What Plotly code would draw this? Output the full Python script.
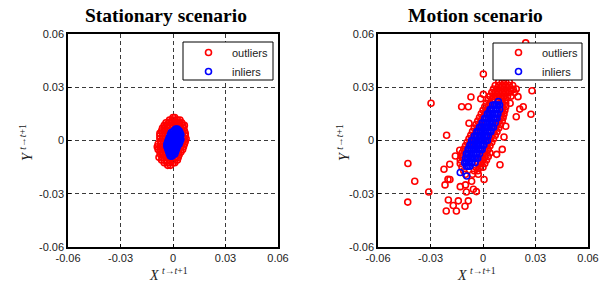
import plotly.graph_objects as go

W, H = 611, 286

# ---------------- data ----------------
tick_vals = [-0.06, -0.03, 0, 0.03, 0.06]
tick_text = ["-0.06", "-0.03", "0", "0.03", "0.06"]

# Stationary scenario, outliers (red)
stat_out_x = [0.0, 0.001,
              -0.002, -0.0005, 0.001, 0.0025, 0.004,
              -0.004, -0.0025, -0.001, 0.0005, 0.002, 0.0035, 0.005,
              -0.005, -0.0035, -0.002, 0.0, 0.002, 0.004, 0.0055, 0.0065,
              -0.006, -0.0045, -0.003, 0.0045, 0.006,
              -0.0065, -0.005, -0.0035, 0.005, 0.0065,
              -0.0075, -0.006, -0.0045, -0.003, 0.0055, 0.007,
              -0.0075, -0.006, -0.0045, 0.0055, 0.007,
              -0.0075, -0.006, -0.0045, 0.006, 0.0075,
              -0.007, -0.0055, -0.004, 0.0055, 0.007,
              -0.0085, -0.007, -0.0055, 0.005, 0.0065,
              -0.009, -0.0075, -0.006, 0.0045, 0.006,
              -0.0085, -0.007, -0.005, 0.0035, 0.0055,
              -0.0075, -0.006, -0.0045, 0.0025, 0.0045,
              -0.007, -0.0055, -0.004, 0.002, 0.0035,
              -0.008, -0.006, -0.004, -0.0025, 0.0015, 0.003,
              -0.0065, -0.005, -0.0035, -0.002, -0.0005, 0.001, 0.0025,
              -0.005, -0.0035, -0.002, 0.0, 0.001,
              -0.003, -0.0015]
stat_out_y = [0.013, 0.013,
              0.0115, 0.0115, 0.0115, 0.0115, 0.0115,
              0.010, 0.010, 0.010, 0.010, 0.010, 0.010, 0.010,
              0.0085, 0.0085, 0.0085, 0.0085, 0.0085, 0.0085, 0.0085, 0.0085,
              0.007, 0.007, 0.007, 0.007, 0.007,
              0.0055, 0.0055, 0.0055, 0.0055, 0.0055,
              0.004, 0.004, 0.004, 0.004, 0.004, 0.004,
              0.0025, 0.0025, 0.0025, 0.0025, 0.0025,
              0.001, 0.001, 0.001, 0.001, 0.001,
              -0.0005, -0.0005, -0.0005, -0.0005, -0.0005,
              -0.002, -0.002, -0.002, -0.002, -0.002,
              -0.0035, -0.0035, -0.0035, -0.0035, -0.0035,
              -0.005, -0.005, -0.005, -0.005, -0.005,
              -0.0065, -0.0065, -0.0065, -0.0065, -0.0065,
              -0.008, -0.008, -0.008, -0.008, -0.008,
              -0.0095, -0.0095, -0.0095, -0.0095, -0.0095, -0.0095,
              -0.011, -0.011, -0.011, -0.011, -0.011, -0.011, -0.011,
              -0.0125, -0.0125, -0.0125, -0.0125, -0.0125,
              -0.014, -0.014]

# Stationary scenario, inliers (blue)
stat_in_x = [0.0015, 0.0025,
             0.0005, 0.0015, 0.0025, 0.0035,
             -0.001, 0.0, 0.001, 0.002, 0.003, 0.004,
             -0.0015, -0.0005, 0.0005, 0.0015, 0.0025, 0.0035, 0.0045,
             -0.002, -0.001, 0.0, 0.001, 0.002, 0.003, 0.004,
             -0.0025, -0.0015, -0.0005, 0.0005, 0.0015, 0.0025, 0.0035, 0.0045,
             -0.003, -0.002, -0.001, 0.0, 0.001, 0.002, 0.003, 0.004,
             -0.0035, -0.0025, -0.0015, -0.0005, 0.0005, 0.0015, 0.0025, 0.0035,
             -0.0035, -0.0025, -0.0015, -0.0005, 0.0005, 0.0015, 0.0025,
             -0.003, -0.002, -0.001, 0.0, 0.001, 0.002,
             -0.0025, -0.0015, -0.0005, 0.0005, 0.0015,
             -0.002, -0.001, 0.0, 0.001,
             -0.0015, -0.0005]
stat_in_y = [0.0065, 0.0065,
             0.0055, 0.0055, 0.0055, 0.0055,
             0.0045, 0.0045, 0.0045, 0.0045, 0.0045, 0.0045,
             0.0032, 0.0032, 0.0032, 0.0032, 0.0032, 0.0032, 0.0032,
             0.002, 0.002, 0.002, 0.002, 0.002, 0.002, 0.002,
             0.0007, 0.0007, 0.0007, 0.0007, 0.0007, 0.0007, 0.0007, 0.0007,
             -0.0006, -0.0006, -0.0006, -0.0006, -0.0006, -0.0006, -0.0006, -0.0006,
             -0.002, -0.002, -0.002, -0.002, -0.002, -0.002, -0.002, -0.002,
             -0.0034, -0.0034, -0.0034, -0.0034, -0.0034, -0.0034, -0.0034,
             -0.0048, -0.0048, -0.0048, -0.0048, -0.0048, -0.0048,
             -0.0062, -0.0062, -0.0062, -0.0062, -0.0062,
             -0.0076, -0.0076, -0.0076, -0.0076,
             -0.0088, -0.0088]

# Motion scenario, outliers (red)
mot_out_x = [0.009, 0.011, 0.013, 0.015,
             0.007, 0.009, 0.011, 0.013, 0.015, 0.017,
             0.006, 0.008, 0.010, 0.012, 0.014, 0.016, 0.019,
             0.005, 0.007, 0.009, 0.011, 0.013, 0.015, 0.018,
             0.004, 0.006, 0.008, 0.010, 0.012, 0.014, 0.016,
             0.003, 0.005, 0.007, 0.009, 0.011, 0.013,
             0.002, 0.004, 0.011, 0.013, 0.0155,
             0.001, 0.003, 0.011, 0.013,
             0.0, 0.002, 0.011, 0.0125,
             -0.001, 0.001, 0.0105, 0.012,
             -0.002, 0.0, 0.010, 0.0115,
             -0.003, -0.001, 0.009, 0.011,
             -0.004, -0.002, 0.008, 0.010,
             -0.005, -0.003, 0.007, 0.009,
             -0.006, -0.004, 0.006, 0.008,
             -0.007, -0.005, 0.005, 0.007,
             -0.008, -0.006, 0.004, 0.006,
             -0.009, -0.007, 0.003, 0.005,
             -0.010, -0.008, 0.002, 0.004,
             -0.011, -0.009, 0.001, 0.003,
             -0.012, -0.010, 0.0, 0.002, 0.004,
             -0.0125, -0.0115, -0.001, 0.001, 0.003,
             -0.013, -0.002, 0.0, 0.002,
             -0.013, -0.003, -0.001, 0.001,
             -0.012, -0.004, -0.002, 0.0,
             -0.011, -0.005, -0.003,
             -0.010, -0.006,
             # scattered outliers
             0.0244, 0.0002, 0.028, -0.0297, 0.0274, 0.019, 0.021, 0.023,
             0.020, 0.0173, -0.0122, -0.0084, -0.0069, -0.0013, 0.0002,
             -0.0208, -0.008, -0.0429, -0.039, -0.031, -0.043, -0.021,
             -0.0152, -0.0198, -0.0141, -0.0084, -0.017, -0.0103, -0.0217,
             -0.0189, -0.0223, -0.019, -0.0158, -0.0133, -0.0122, -0.013,
             -0.010, -0.0065, -0.0038, -0.0027, 0.0006, 0.0097, 0.0078,
             0.012, 0.013, 0.011, -0.020, -0.0095, -0.0055]
mot_out_y = [0.033, 0.033, 0.033, 0.033,
             0.031, 0.031, 0.031, 0.031, 0.031, 0.031,
             0.029, 0.029, 0.029, 0.029, 0.029, 0.029, 0.029,
             0.027, 0.027, 0.027, 0.027, 0.027, 0.027, 0.027,
             0.025, 0.025, 0.025, 0.025, 0.025, 0.025, 0.025,
             0.023, 0.023, 0.023, 0.023, 0.023, 0.023,
             0.021, 0.021, 0.021, 0.021, 0.021,
             0.019, 0.019, 0.019, 0.019,
             0.017, 0.017, 0.017, 0.017,
             0.015, 0.015, 0.015, 0.015,
             0.013, 0.013, 0.013, 0.013,
             0.011, 0.011, 0.011, 0.011,
             0.009, 0.009, 0.009, 0.009,
             0.007, 0.007, 0.007, 0.007,
             0.005, 0.005, 0.005, 0.005,
             0.003, 0.003, 0.003, 0.003,
             0.001, 0.001, 0.001, 0.001,
             -0.001, -0.001, -0.001, -0.001,
             -0.003, -0.003, -0.003, -0.003,
             -0.005, -0.005, -0.005, -0.005,
             -0.007, -0.007, -0.007, -0.007, -0.007,
             -0.009, -0.009, -0.009, -0.009, -0.009,
             -0.011, -0.011, -0.011, -0.011,
             -0.013, -0.013, -0.013, -0.013,
             -0.015, -0.015, -0.015, -0.015,
             -0.017, -0.017, -0.017,
             -0.019, -0.019,
             # scattered outliers
             0.055, 0.0375, 0.028, 0.021, 0.0148, 0.0134, 0.0177, 0.019,
             0.0247, 0.0288, 0.019, 0.019, 0.0245, 0.0235, 0.026,
             0.003, 0.0097, -0.013, -0.023, -0.029, -0.0347, -0.0397,
             -0.0397, -0.0335, -0.034, -0.034, -0.0366, -0.037, -0.025,
             -0.022, -0.0162, -0.0134, -0.0087, -0.0055, -0.009, -0.026,
             -0.025, -0.023, -0.0288, -0.019, -0.022, -0.0137, -0.0078,
             0.002, 0.008, -0.005, -0.0219, -0.029, -0.0275]

# Motion scenario, inliers (blue)
mot_in_x = [0.0088,
            0.0055, 0.0065, 0.0075, 0.0085, 0.0095,
            0.004, 0.005, 0.006, 0.007, 0.008, 0.0095,
            0.0025, 0.0035, 0.0045, 0.0055, 0.0065, 0.0075, 0.0085,
            0.001, 0.002, 0.003, 0.004, 0.005, 0.006, 0.007, 0.008,
            -0.0005, 0.0005, 0.0015, 0.0025, 0.0035, 0.0045, 0.0055, 0.007,
            -0.002, -0.001, 0.0, 0.001, 0.002, 0.003, 0.004, 0.005, 0.006,
            -0.0035, -0.0025, -0.0015, -0.0005, 0.0005, 0.0015, 0.0025, 0.0035, 0.0045,
            -0.005, -0.004, -0.003, -0.002, -0.001, 0.0, 0.001, 0.002, 0.003,
            -0.0065, -0.0055, -0.0045, -0.0035, -0.0025, -0.0015, -0.0005, 0.0005, 0.0015, 0.0025,
            -0.0075, -0.0065, -0.0055, -0.0045, -0.0035, -0.0025, -0.0015, -0.0005, 0.0005,
            -0.0085, -0.0075, -0.0065, -0.0055, -0.0045, -0.0035, -0.0025, -0.0015, -0.0005,
            -0.0095, -0.0085, -0.0075, -0.0065, -0.0055, -0.0045, -0.0035, -0.002,
            -0.010, -0.009, -0.008, -0.007, -0.006, -0.005, -0.004, -0.003,
            -0.0105, -0.0095, -0.0085, -0.0075, -0.0065, -0.0045,
            -0.0095, -0.0085, -0.0075,
            -0.013, -0.0093]
mot_in_y = [0.022,
            0.020, 0.020, 0.020, 0.020, 0.020,
            0.0175, 0.0175, 0.0175, 0.0175, 0.0175, 0.0175,
            0.015, 0.015, 0.015, 0.015, 0.015, 0.015, 0.015,
            0.0125, 0.0125, 0.0125, 0.0125, 0.0125, 0.0125, 0.0125, 0.0125,
            0.010, 0.010, 0.010, 0.010, 0.010, 0.010, 0.010, 0.010,
            0.0075, 0.0075, 0.0075, 0.0075, 0.0075, 0.0075, 0.0075, 0.0075, 0.0075,
            0.005, 0.005, 0.005, 0.005, 0.005, 0.005, 0.005, 0.005, 0.005,
            0.0025, 0.0025, 0.0025, 0.0025, 0.0025, 0.0025, 0.0025, 0.0025, 0.0025,
            0.0, 0.0, 0.0, 0.0, 0.0, 0.0, 0.0, 0.0, 0.0, 0.0,
            -0.0025, -0.0025, -0.0025, -0.0025, -0.0025, -0.0025, -0.0025, -0.0025, -0.0025,
            -0.005, -0.005, -0.005, -0.005, -0.005, -0.005, -0.005, -0.005, -0.005,
            -0.0075, -0.0075, -0.0075, -0.0075, -0.0075, -0.0075, -0.0075, -0.0075,
            -0.010, -0.010, -0.010, -0.010, -0.010, -0.010, -0.010, -0.010,
            -0.0125, -0.0125, -0.0125, -0.0125, -0.0125, -0.0125,
            -0.0145, -0.0145, -0.0145,
            -0.018, -0.020]

titles = ["Stationary scenario", "Motion scenario"]

# ---------------- layout helpers ----------------
def px_x(p):
    return p / W

def px_y(p):
    return 1 - p / H

PLOT_L = [(68, 278), (378, 588)]
PLOT_T, PLOT_B = 34, 247
LEG_BOX = [(183, 273, 42, 80), (493, 582, 43, 80)]

fig = go.Figure()

mk = dict(size=6, line=dict(width=1.6))

def add_pair(ox, oy, ix, iy, idx, legend):
    xa = "x" if idx == 0 else "x2"
    ya = "y" if idx == 0 else "y2"
    fig.add_trace(go.Scatter(x=ox, y=oy, mode="markers", name="outliers",
                             marker=dict(symbol="circle-open", color="#ff0000", **mk),
                             xaxis=xa, yaxis=ya, legend=legend))
    fig.add_trace(go.Scatter(x=ix, y=iy, mode="markers", name="inliers",
                             marker=dict(symbol="circle-open", color="#0000ff", **mk),
                             xaxis=xa, yaxis=ya, legend=legend))

add_pair(stat_out_x, stat_out_y, stat_in_x, stat_in_y, 0, "legend")
add_pair(mot_out_x, mot_out_y, mot_in_x, mot_in_y, 1, "legend2")

axis_common = dict(range=[-0.06, 0.06], tickvals=tick_vals, ticktext=tick_text,
                   showgrid=True, gridcolor="#3a3a3a", griddash="4px,3px", gridwidth=1,
                   zeroline=False, showline=True, mirror=True, linecolor="black",
                   linewidth=1.5, ticks="inside", ticklen=3, tickcolor="black",
                   tickfont=dict(family="Liberation Sans, Arial", size=11, color="#222222"),
                   automargin=False, fixedrange=True)

legend_common = dict(bgcolor="rgba(0,0,0,0)", borderwidth=0,
                     font=dict(family="Liberation Sans, Arial", size=11, color="#222222"),
                     xanchor="left", yanchor="top", tracegroupgap=0,
                     itemwidth=37)

fig.update_layout(
    width=W, height=H,
    margin=dict(l=0, r=0, t=0, b=0, autoexpand=False),
    paper_bgcolor="white", plot_bgcolor="white",
    showlegend=True,
    xaxis=dict(domain=[px_x(PLOT_L[0][0]), px_x(PLOT_L[0][1])], anchor="y", **axis_common),
    yaxis=dict(domain=[px_y(PLOT_B), px_y(PLOT_T)], anchor="x", **axis_common),
    xaxis2=dict(domain=[px_x(PLOT_L[1][0]), px_x(PLOT_L[1][1])], anchor="y2", **axis_common),
    yaxis2=dict(domain=[px_y(PLOT_B), px_y(PLOT_T)], anchor="x2", **axis_common),
    legend=dict(x=px_x(LEG_BOX[0][0] + 2), y=px_y(38), **legend_common),
    legend2=dict(x=px_x(LEG_BOX[1][0] + 2), y=px_y(38), **legend_common),
)

shapes = []
for (x0, x1, y0, y1) in LEG_BOX:
    shapes.append(dict(type="rect", xref="paper", yref="paper",
                       x0=px_x(x0), x1=px_x(x1), y0=px_y(y1), y1=px_y(y0),
                       fillcolor="white", line=dict(color="black", width=1), layer="above"))
fig.update_layout(shapes=shapes)

annotations = []
title_cx = [166, 475]
xlab_cx = [168, 476]
ylab_cx = [26, 343]
for i in range(2):
    annotations.append(dict(text="<b>" + titles[i] + "</b>", x=px_x(title_cx[i]), y=px_y(15),
                            xref="paper", yref="paper", showarrow=False,
                            xanchor="center", yanchor="middle",
                            font=dict(family="Liberation Serif, Times New Roman", size=19.5, color="black")))
    annotations.append(dict(text="<i>X</i> <sup><i>t</i>→<i>t</i>+1</sup>", x=px_x(xlab_cx[i]), y=px_y(274),
                            xref="paper", yref="paper", showarrow=False,
                            xanchor="center", yanchor="middle",
                            font=dict(family="Liberation Serif, Times New Roman", size=14, color="#222222")))
    annotations.append(dict(text="<i>Y</i> <sup><i>t</i>→<i>t</i>+1</sup>", x=px_x(ylab_cx[i]), y=px_y(143),
                            xref="paper", yref="paper", showarrow=False, textangle=-90,
                            xanchor="center", yanchor="middle",
                            font=dict(family="Liberation Serif, Times New Roman", size=14, color="#222222")))
fig.update_layout(annotations=annotations)

fig.write_html("out.html", config={"displayModeBar": False},
               post_script="document.body.style.margin='0';document.body.style.padding='0';")
